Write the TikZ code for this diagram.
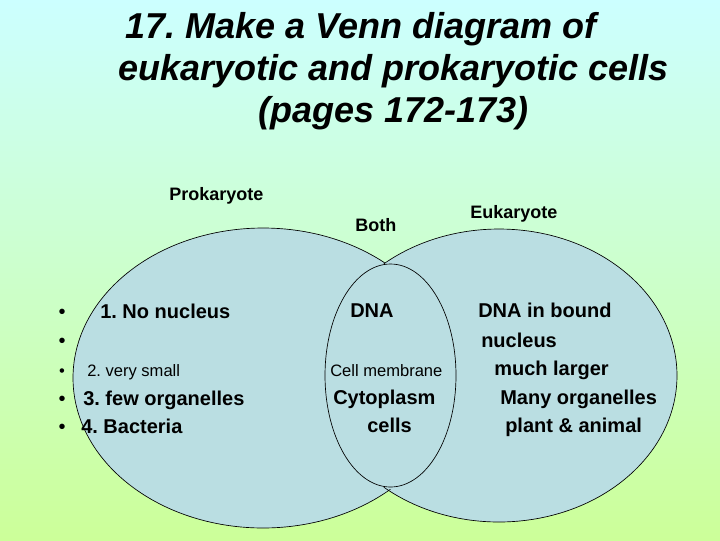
\documentclass[tikz,border=0pt]{standalone}
\usepackage{fontspec}
\setmainfont{Liberation Sans}
\definecolor{bgtop}{RGB}{204,255,255}
\definecolor{bgbot}{RGB}{204,255,153}
\definecolor{cellfill}{RGB}{186,222,226}
\frenchspacing
\begin{document}
\begin{tikzpicture}[x=0.75pt,y=0.75pt,
  titletxt/.style={anchor=base west,inner sep=0pt,font=\fontsize{27}{32}\selectfont\bfseries\itshape},
  labeltxt/.style={anchor=base west,inner sep=0pt,font=\fontsize{13.5}{16}\selectfont\bfseries},
  bigtxt/.style={anchor=base west,inner sep=0pt,font=\fontsize{15}{18}\selectfont\bfseries},
  smalltxt/.style={anchor=base west,inner sep=0pt,font=\fontsize{12.4}{15}\selectfont},
  bigbul/.style={anchor=base,inner sep=0pt,font=\fontsize{15}{18}\selectfont},
  smallbul/.style={anchor=base,inner sep=0pt,font=\fontsize{12.4}{15}\selectfont},
  outline/.style={draw=black,line width=0.5pt}]
\useasboundingbox (0,0) rectangle (720,-540);
\shade[top color=bgtop,bottom color=bgbot] (0,0) rectangle (720,-540);
% centres
\coordinate (cl) at (263,-378);
\coordinate (cr) at (499,-375.5);
\coordinate (cm) at (390.5,-375.5);
% fills
\fill[cellfill] (cl) ellipse [x radius=190,y radius=150];
\fill[cellfill] (cr) ellipse [x radius=178,y radius=146.5];
% outlines
\draw[outline] (cl) ++(50.2:190 and 150) arc[start angle=50.2,end angle=312.1,x radius=190,y radius=150];
\draw[outline] (cr) ++(-130.3:178 and 146.5) arc[start angle=-130.3,end angle=130.3,x radius=178,y radius=146.5];
\draw[outline] (cm) ellipse [x radius=65.5,y radius=111.5];
% title
\node[titletxt] (t1) at (125,-38) {17. Make a Venn diagram of};
\node[titletxt] (t2) at (118,-80) {eukaryotic and prokaryotic cells};
\node[titletxt] (t3) at (258,-122) {(pages 172-173)};
% headings
\node[labeltxt] (pro) at (169,-200) {Prokaryote};
\node[labeltxt] (both) at (355,-231) {Both};
\node[labeltxt] (euk) at (470,-218) {Eukaryote};
% bullets
\node[bigbul] (b1) at (62,-318) {•};
\node[bigbul] (b2) at (62,-347) {•};
\node[smallbul] (b3) at (62,-376) {•};
\node[bigbul] (b4) at (62,-405) {•};
\node[bigbul] (b5) at (62,-433) {•};
% prokaryote list
\node[bigtxt] (p1) at (100,-318) {1. No nucleus};
\node[smalltxt] (p2) at (87,-376) {2. very small};
\node[bigtxt] (p3) at (83,-405) {3. few organelles};
\node[bigtxt] (p4) at (81,-433) {4. Bacteria};
% both
\node[bigtxt] (m1) at (350,-317) {DNA};
\node[smalltxt] (m2) at (330,-376) {Cell membrane};
\node[bigtxt] (m3) at (333,-404) {Cytoplasm};
\node[bigtxt] (m4) at (367,-432) {cells};
% eukaryote
\node[bigtxt] (e1) at (478,-317) {DNA in bound};
\node[bigtxt] (e2) at (481,-347) {nucleus};
\node[bigtxt] (e3) at (494,-375) {much larger};
\node[bigtxt] (e4) at (500,-404) {Many organelles};
\node[bigtxt] (e5) at (505,-432) {plant \& animal};
\end{tikzpicture}
\end{document}
